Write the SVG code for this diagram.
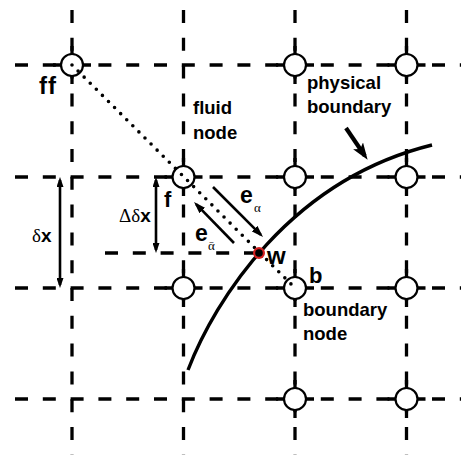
<svg xmlns="http://www.w3.org/2000/svg" xmlns:xlink="http://www.w3.org/1999/xlink" width="461" height="460" viewBox="0 0 461 460">
<style>
.grid{stroke:#000;stroke-width:3.3;stroke-dasharray:13 14.8;fill:none}
.lbl{font-family:"Liberation Sans",Arial,sans-serif;font-weight:bold;fill:#000}
.ser{font-family:"Liberation Serif","DejaVu Serif",serif;font-weight:normal;fill:#000}
.arr{stroke:#000;stroke-width:2.6;fill:none}
</style>
<defs>
<marker id="ah" markerUnits="userSpaceOnUse" markerWidth="10" markerHeight="7" refX="7" refY="3.5" orient="auto-start-reverse"><path d="M0,0 L10,3.5 L0,7 z" fill="#000"/></marker>
<marker id="ahe" markerUnits="userSpaceOnUse" markerWidth="12" markerHeight="8" refX="9" refY="4" orient="auto"><path d="M0,0 L12,4 L0,8 z" fill="#000"/></marker>
<marker id="ahb" markerUnits="userSpaceOnUse" markerWidth="17" markerHeight="12" refX="12" refY="6" orient="auto"><path d="M0,0 L17,6 L0,12 L4,6 z" fill="#000"/></marker>
<g id="node-sym">
<path d="M-19,0 H19 M0,-19 V19" stroke="#000" stroke-width="3.3"/>
<circle r="11" fill="#fff" stroke="#000" stroke-width="2.2"/>
</g>
</defs>
<rect width="461" height="460" fill="#fff"/>
<g id="grid">
<line class="grid" x1="15" y1="65" x2="461" y2="65"/>
<line class="grid" x1="15" y1="177" x2="461" y2="177"/>
<line class="grid" x1="15" y1="288" x2="461" y2="288"/>
<line class="grid" x1="15" y1="399" x2="461" y2="399"/>
<line class="grid" x1="72" y1="10" x2="72" y2="455"/>
<line class="grid" x1="183.5" y1="10" x2="183.5" y2="455"/>
<line class="grid" x1="295" y1="10" x2="295" y2="455"/>
<line class="grid" x1="406.5" y1="10" x2="406.5" y2="455"/>
<line class="grid" x1="105" y1="253" x2="256" y2="253"/>
</g>
<g id="physical-boundary">
<path d="M188,370 C215,300 290,180 432,145" fill="none" stroke="#000" stroke-width="3.4"/>
</g>
<g id="node-ff"><use xlink:href="#node-sym" x="72" y="65"/></g>
<g id="node-a"><use xlink:href="#node-sym" x="295" y="65"/></g>
<g id="node-b1"><use xlink:href="#node-sym" x="406.5" y="65"/></g>
<g id="node-f"><use xlink:href="#node-sym" x="183.5" y="177"/></g>
<g id="node-c"><use xlink:href="#node-sym" x="295" y="177"/></g>
<g id="node-d"><use xlink:href="#node-sym" x="406.5" y="177"/></g>
<g id="node-e"><use xlink:href="#node-sym" x="183.5" y="288"/></g>
<g id="node-b"><use xlink:href="#node-sym" x="295" y="288"/></g>
<g id="node-g"><use xlink:href="#node-sym" x="406.5" y="288"/></g>
<g id="node-h"><use xlink:href="#node-sym" x="295" y="399"/></g>
<g id="node-i"><use xlink:href="#node-sym" x="406.5" y="399"/></g>
<g id="connectors">
<line x1="72" y1="65" x2="295" y2="288" stroke="#000" stroke-width="3.6" stroke-linecap="round" stroke-dasharray="0 8.6"/>
<line class="arr" x1="60" y1="180" x2="60" y2="285" marker-start="url(#ah)" marker-end="url(#ah)"/>
<line class="arr" x1="156" y1="180" x2="156" y2="250" marker-start="url(#ah)" marker-end="url(#ah)"/>
<line class="arr" x1="213" y1="187" x2="260.9" y2="234.9" marker-end="url(#ahe)"/>
<line class="arr" x1="234" y1="243" x2="196.1" y2="204.1" marker-end="url(#ahe)"/>
<line x1="346" y1="128" x2="364.8" y2="155.7" stroke="#000" stroke-width="4.2" marker-end="url(#ahb)"/>
</g>
<g id="node-w">
<circle cx="259" cy="253" r="6" fill="#d42020"/>
<circle cx="259" cy="253" r="3.8" fill="#000"/>
</g>
<g id="labels">
<text class="lbl" x="39" y="94" font-size="24" letter-spacing="1">ff</text>
<text class="lbl" x="193" y="114" font-size="18.5">fluid</text>
<text class="lbl" x="193" y="139" font-size="18.5">node</text>
<text class="lbl" x="307" y="89" font-size="18.5">physical</text>
<text class="lbl" x="307" y="113" font-size="18.5">boundary</text>
<text class="lbl" x="303" y="316" font-size="18.5">boundary</text>
<text class="lbl" x="303" y="340" font-size="18.5">node</text>
<text class="lbl" x="164" y="207" font-size="22">f</text>
<text class="lbl" x="309" y="283" font-size="22">b</text>
<text class="lbl" x="267" y="264" font-size="24">w</text>
<text class="ser" x="119" y="222" font-size="19">Δδ<tspan class="lbl">x</tspan></text>
<text class="ser" x="32" y="242" font-size="19">δ<tspan class="lbl">x</tspan></text>
<text class="lbl" x="240" y="203" font-size="23">e</text>
<text class="ser" x="254" y="212" font-size="13">α</text>
<text class="lbl" x="195" y="241" font-size="23">e</text>
<text class="ser" x="208" y="250" font-size="13">ᾱ</text>
</g>
</svg>
